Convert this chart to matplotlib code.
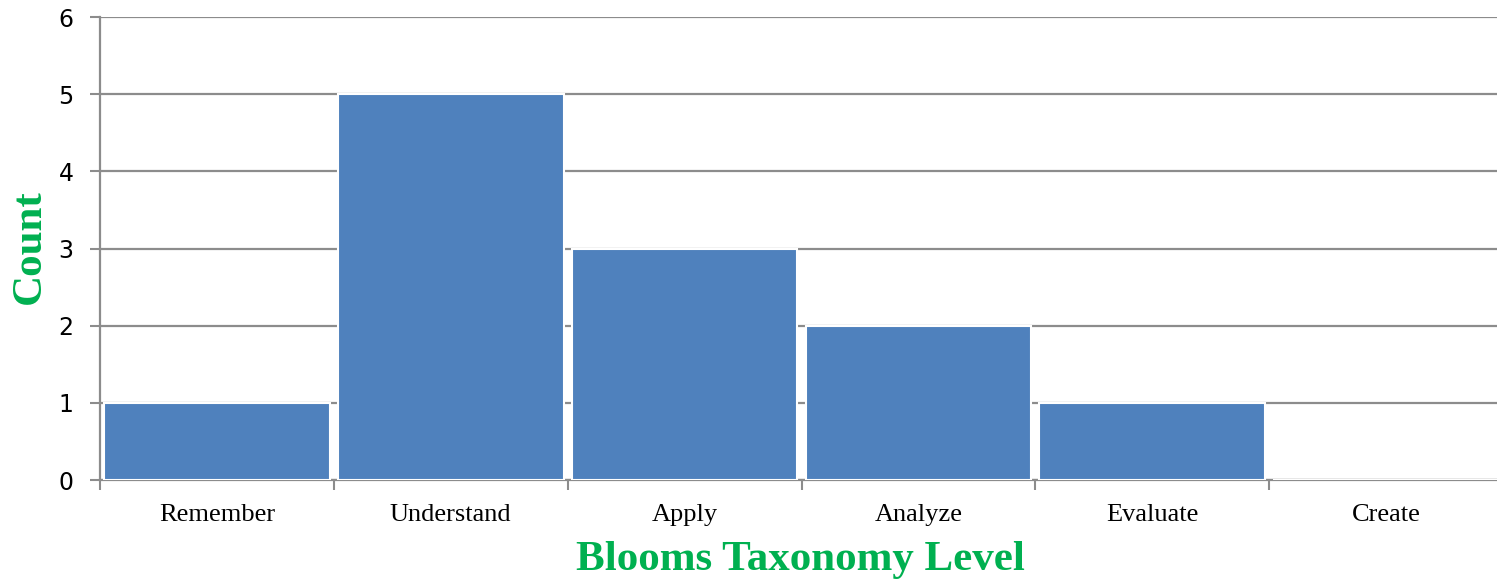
import matplotlib.pyplot as plt
import numpy as np

# Data
levels = ['Remember', 'Understand', 'Apply', 'Analyze', 'Evaluate', 'Create']
counts = [1, 5, 3, 2, 1, 0]

fig = plt.figure(figsize=(14.97, 5.83), dpi=100)
# axes runs a bit past the right edge, like the original
ax = fig.add_axes([100/1497, 1 - 480/583, (1503 - 100)/1497, (480 - 17)/583])

x = np.arange(len(levels))
ax.bar(x, counts, width=0.965, color='#4F81BD', edgecolor='white', linewidth=1.5, zorder=3)

ax.set_xlim(-0.5, 5.5)
ax.set_ylim(0, 6)
ax.set_yticks(range(0, 7))
ax.yaxis.grid(True, color='#8C8C8C', linewidth=1.6, zorder=0)

# category boundaries as major ticks, labels on minor ticks
ax.set_xticks(np.arange(-0.5, 6.0, 1.0))
ax.set_xticklabels([])
ax.set_xticks(x, minor=True)
ax.set_xticklabels(levels, minor=True, fontfamily='Liberation Serif', fontsize=19)
ax.tick_params(axis='x', which='major', length=7, width=1.5, color='#8C8C8C', direction='out')
ax.tick_params(axis='x', which='minor', length=0, pad=17)
ax.tick_params(axis='y', length=7, width=1.5, color='#8C8C8C', labelsize=17, pad=12)

for s in ['top', 'right']:
    ax.spines[s].set_visible(False)
for s in ['left', 'bottom']:
    ax.spines[s].set_color('#8C8C8C')
    ax.spines[s].set_linewidth(1.6)

ax.set_xlabel('Blooms Taxonomy Level', fontfamily='Liberation Serif', fontweight='bold',
              fontsize=31, color='#00B050')
ax.set_ylabel('Count', fontfamily='Liberation Serif', fontweight='bold',
              fontsize=31, color='#00B050')
ax.xaxis.set_label_coords((800 - 100)/1403, (480 - 560)/463)
ax.yaxis.set_label_coords((30 - 100)/1403, (480 - 247)/463)
ax.yaxis.label.set_va('center')
ax.xaxis.label.set_va('center')

fig.savefig('out.png', dpi=100)
